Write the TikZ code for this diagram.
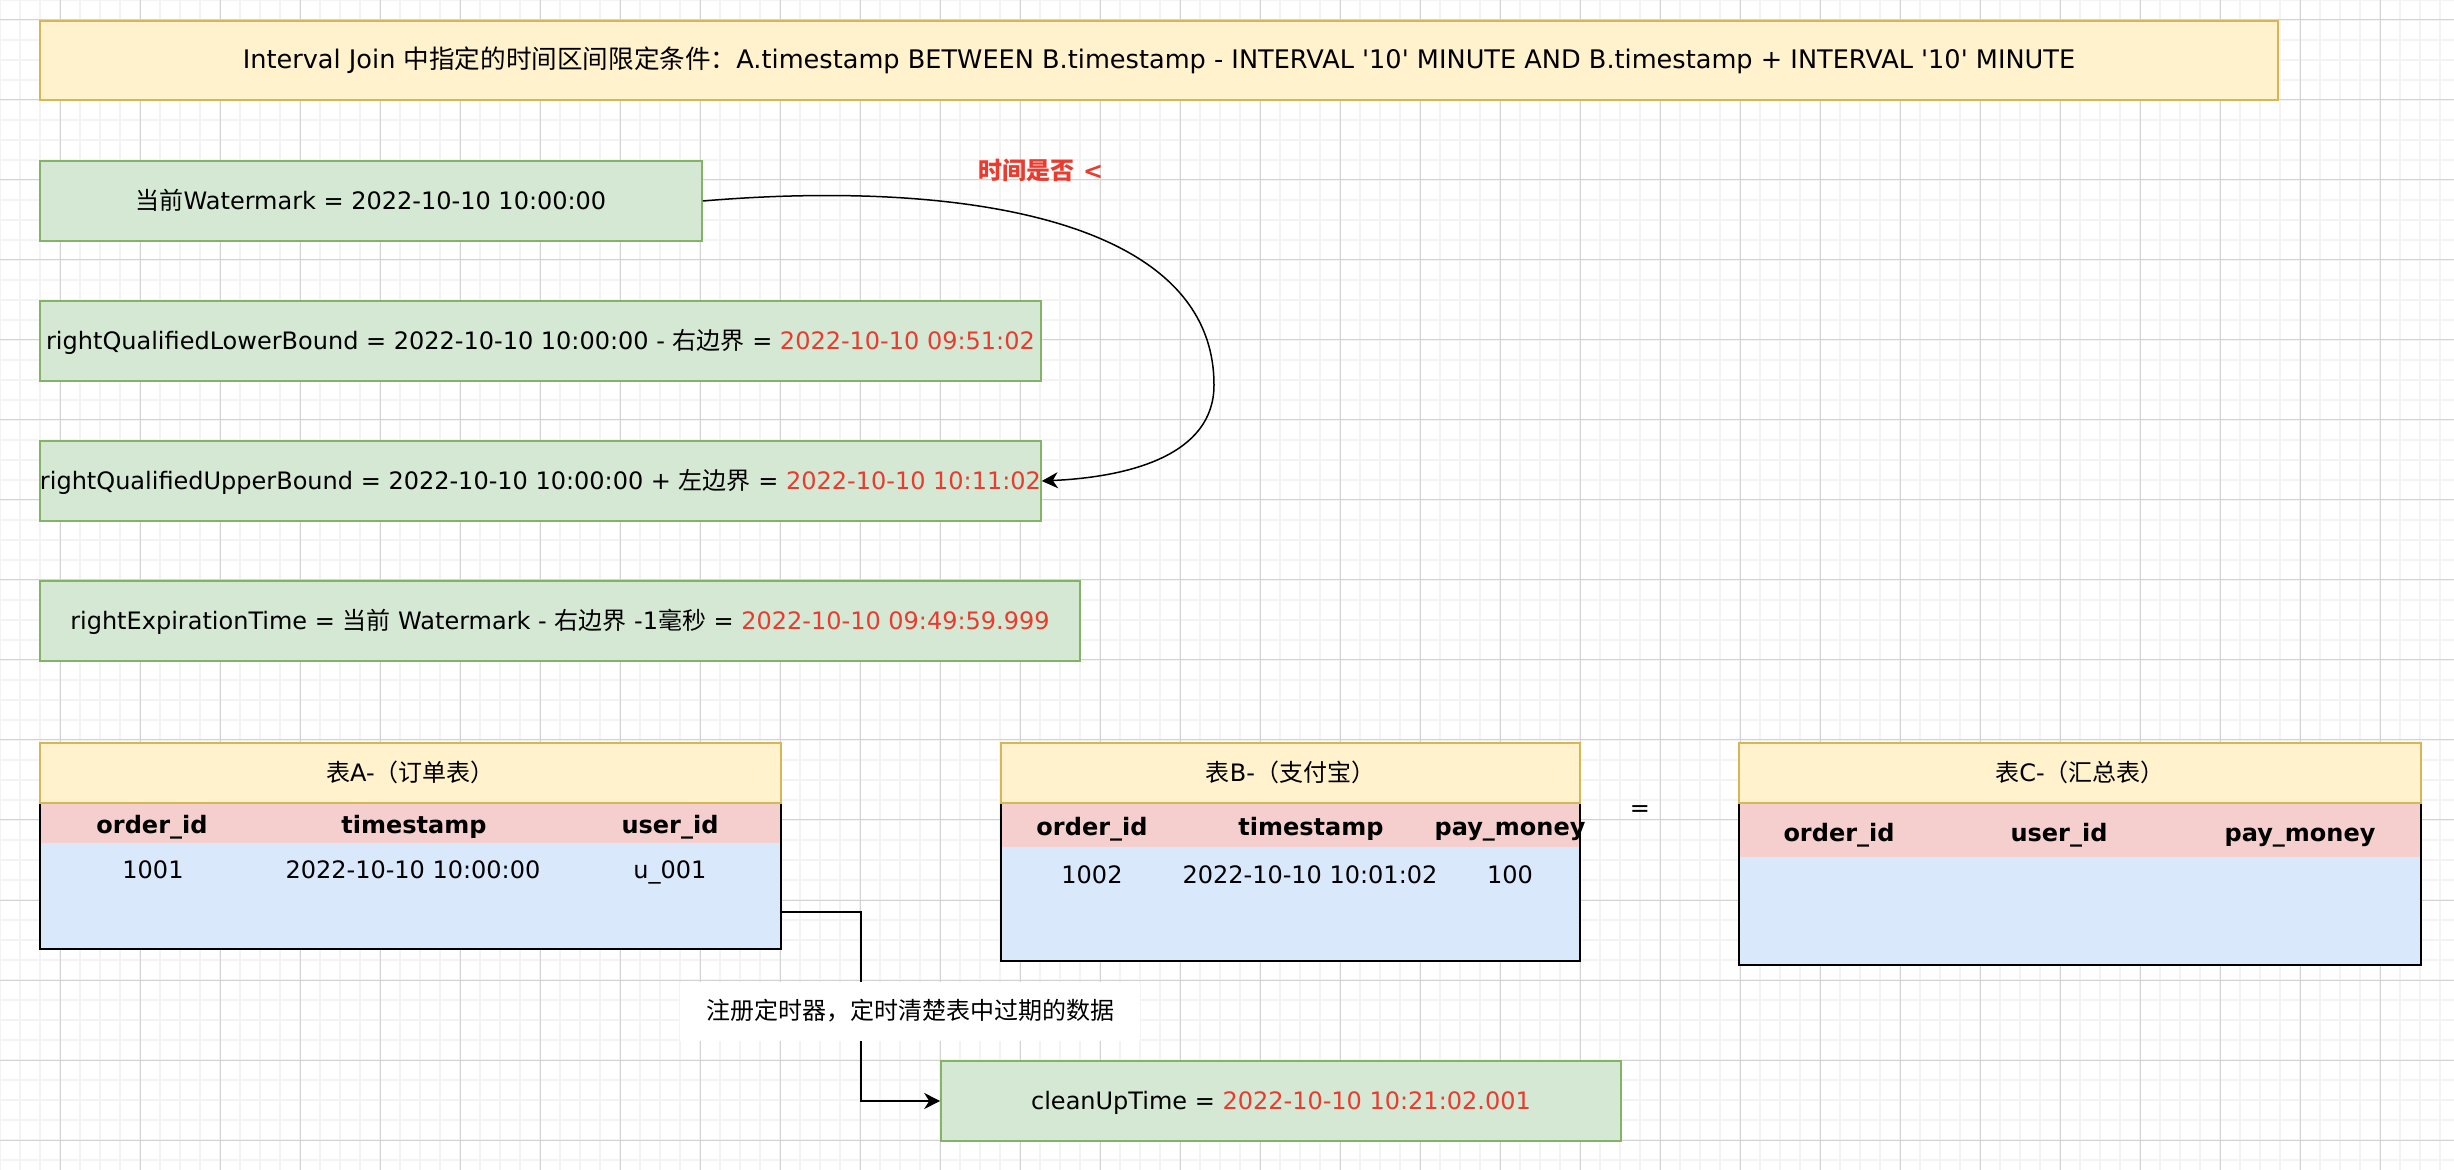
\documentclass[tikz,border=0pt]{standalone}
\usepackage{fontspec}
\setmainfont{DejaVu Sans}
\newfontfamily\cjk{Noto Sans CJK SC}
\usetikzlibrary{arrows.meta}
\definecolor{yfill}{HTML}{FFF2CC}
\definecolor{ydraw}{HTML}{D6B656}
\definecolor{gfill}{HTML}{D5E8D4}
\definecolor{gdraw}{HTML}{82B366}
\definecolor{pfill}{HTML}{F5CFCD}
\definecolor{bfill}{HTML}{DAE8FC}
\definecolor{myred}{HTML}{EA3B2E}
\definecolor{gridminor}{HTML}{F3F3F3}
\definecolor{gridmajor}{HTML}{D3D3D3}
\newcommand\rd[1]{\textcolor{myred}{#1}}
\newcommand\q{\textquotesingle}
\begin{document}
\begin{tikzpicture}[x=0.5pt,y=-0.5pt,
  every node/.style={font=\fontsize{12}{14}\selectfont, inner sep=0pt, text height=8.5pt, text depth=0pt},
  gbox/.style={draw=gdraw, fill=gfill, line width=0.8pt, rectangle},
  ybox/.style={draw=ydraw, fill=yfill, line width=0.8pt, rectangle},
  tframe/.style={draw=black, line width=0.8pt, rectangle},
  hdr/.style={font=\fontsize{12}{14}\selectfont\bfseries},
  conn/.style={draw=black, line width=0.75pt, -{Stealth[length=8pt,width=8pt,inset=2.5pt]}},
]
\useasboundingbox (0,0) rectangle (2454,1170);
\fill[white] (0,0) rectangle (2454,1170);
% grid
\foreach \x in {0,20,...,2440} \draw[gridminor, line width=1pt] (\x,0) -- (\x,1170);
\foreach \y in {0,20,...,1160} \draw[gridminor, line width=1pt] (0,\y) -- (2454,\y);
\foreach \x in {60,140,...,2420} \draw[gridmajor, line width=0.5pt] (\x,0) -- (\x,1170);
\foreach \y in {20,100,...,1140} \draw[gridmajor, line width=0.5pt] (0,\y) -- (2454,\y);

% title
\node[ybox, minimum width=1119pt, minimum height=39.5pt, font=\fontsize{12.8}{15}\selectfont] (title) at (1159,60.5)
  {Interval Join {\cjk 中指定的时间区间限定条件：}A.timestamp BETWEEN B.timestamp - INTERVAL \q10\q{} MINUTE AND B.timestamp + INTERVAL \q10\q{} MINUTE};

% green boxes
\node[gbox, minimum width=331pt, minimum height=40pt] (wm) at (371,201)
  {{\cjk 当前}Watermark = 2022-10-10 10:00:00};
\node[gbox, minimum width=500.5pt, minimum height=40pt] (lb) at (540.5,341)
  {rightQualifiedLowerBound = 2022-10-10 10:00:00 - {\cjk 右边界} = \rd{2022-10-10 09:51:02}};
\node[gbox, minimum width=500.5pt, minimum height=40pt] (ub) at (540.5,481)
  {rightQualifiedUpperBound = 2022-10-10 10:00:00 + {\cjk 左边界} = \rd{2022-10-10 10:11:02}};
\node[gbox, minimum width=520pt, minimum height=40pt] (ex) at (560,621)
  {rightExpirationTime = {\cjk 当前} Watermark - {\cjk 右边界} -1{\cjk 毫秒} = \rd{2022-10-10 09:49:59.999}};
\node[gbox, minimum width=340pt, minimum height=40pt] (cu) at (1281,1101)
  {cleanUpTime = \rd{2022-10-10 10:21:02.001}};

% question label
\node[hdr, text=myred] (q) at (1041,171) {{\cjk\bfseries 时间是否} <};

% table A
\fill[bfill] (40,743) rectangle (781,949);
\fill[pfill] (40,803) rectangle (781,843);
\node[tframe, minimum width=370.5pt, minimum height=103pt] (ta) at (410.5,846) {};
\node[ybox, minimum width=370.5pt, minimum height=30pt] (tah) at (410.5,773) {{\cjk 表}A-{\cjk （订单表）}};
\node[hdr] (ta1) at (152,825) {order\_id};
\node[hdr] (ta2) at (414,825) {timestamp};
\node[hdr] (ta3) at (670,825) {user\_id};
\node (ta4) at (153,870) {1001};
\node (ta5) at (413,870) {2022-10-10 10:00:00};
\node (ta6) at (670,870) {u\_001};

% table B
\fill[bfill] (1001,743) rectangle (1580,961);
\fill[pfill] (1001,803) rectangle (1580,847);
\node[tframe, minimum width=289.5pt, minimum height=109pt] (tb) at (1290.5,852) {};
\node[ybox, minimum width=289.5pt, minimum height=30pt] (tbh) at (1290.5,773) {{\cjk 表}B-{\cjk （支付宝）}};
\node[hdr] (tb1) at (1092,827) {order\_id};
\node[hdr] (tb2) at (1311,827) {timestamp};
\node[hdr] (tb3) at (1510,827) {pay\_money};
\node (tb4) at (1092,875) {1002};
\node (tb5) at (1310,875) {2022-10-10 10:01:02};
\node (tb6) at (1510,875) {100};

% equals
\node (eq) at (1640,808) {=};

% table C
\fill[bfill] (1739,743) rectangle (2421,965);
\fill[pfill] (1739,803) rectangle (2421,857);
\node[tframe, minimum width=341pt, minimum height=111pt] (tc) at (2080,854) {};
\node[ybox, minimum width=341pt, minimum height=30pt] (tch) at (2080,773) {{\cjk 表}C-{\cjk （汇总表）}};
\node[hdr] (tc1) at (1839,833) {order\_id};
\node[hdr] (tc2) at (2059,833) {user\_id};
\node[hdr] (tc3) at (2300,833) {pay\_money};

% connectors
\draw[conn] (wm.east) .. controls (950,180) and (1214,215) .. (1214,385)
  .. controls (1214,455) and (1130,477) .. (ub.east);
\coordinate (aout) at (781,912);
\draw[conn] (aout) -- ++(80,0) |- (cu.west);
\node[fill=white, minimum width=230pt, minimum height=29.5pt] (lbl) at (910,1011)
  {\cjk 注册定时器，定时清楚表中过期的数据};
\end{tikzpicture}
\end{document}
